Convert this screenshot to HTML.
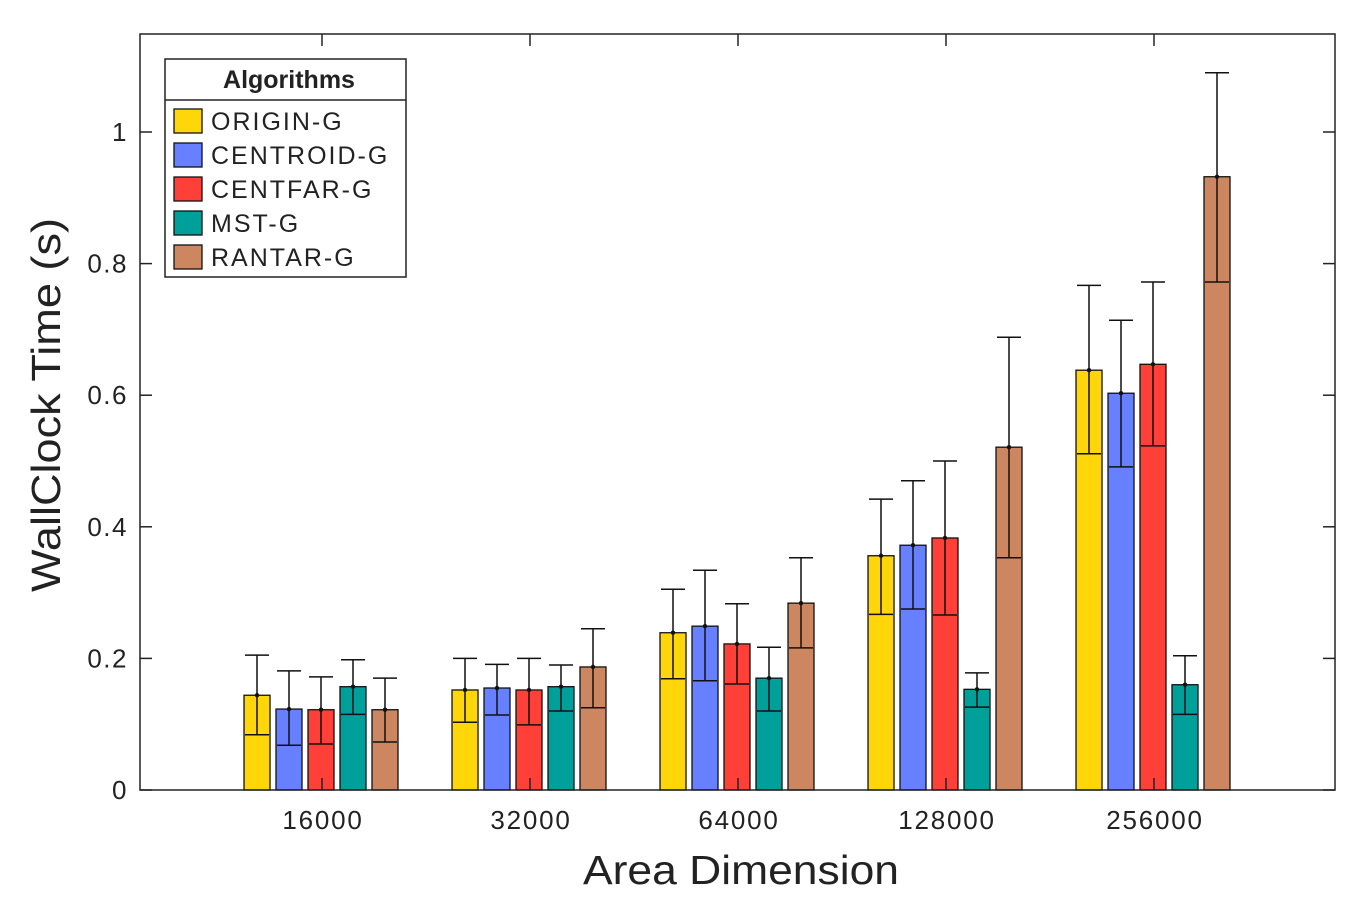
<!DOCTYPE html>
<html><head><meta charset="utf-8"><style>
body{margin:0;background:#fff}
svg text{font-family:"Liberation Sans",sans-serif;fill:#222}
</style></head><body>
<svg id="chart" width="1364" height="910" xmlns="http://www.w3.org/2000/svg">
<g id="plot"></g>
</svg>
<script>
const categories=["16000","32000","64000","128000","256000"];
const seriesNames=["ORIGIN-G","CENTROID-G","CENTFAR-G","MST-G","RANTAR-G"];
const seriesColors=["#ffd60a","#6680ff","#ff4038","#00a09a","#cc8660"];
const origin=[0.144,0.152,0.239,0.356,0.638];
const centroid=[0.123,0.155,0.249,0.372,0.603];
const centfar=[0.122,0.152,0.222,0.383,0.647];
const mst=[0.157,0.157,0.170,0.153,0.160];
const rantar=[0.122,0.187,0.284,0.521,0.932];
const upperOrigin=[0.205,0.200,0.305,0.442,0.767];
const upperCentroid=[0.181,0.191,0.334,0.470,0.714];
const upperCentfar=[0.172,0.200,0.283,0.500,0.772];
const upperMst=[0.198,0.190,0.217,0.178,0.204];
const upperRantar=[0.170,0.245,0.353,0.688,1.090];
const lowerOrigin=[0.084,0.103,0.169,0.267,0.511];
const lowerCentroid=[0.068,0.114,0.166,0.275,0.491];
const lowerCentfar=[0.070,0.099,0.161,0.266,0.523];
const lowerMst=[0.115,0.120,0.120,0.126,0.115];
const lowerRantar=[0.073,0.125,0.216,0.353,0.772];
const yTicks=[0,0.2,0.4,0.6,0.8,1];
const yTickLabels=["0","0.2","0.4","0.6","0.8","1"];

const values=[origin,centroid,centfar,mst,rantar];
const uppers=[upperOrigin,upperCentroid,upperCentfar,upperMst,upperRantar];
const lowers=[lowerOrigin,lowerCentroid,lowerCentfar,lowerMst,lowerRantar];
const L=140,R=1335,T=34,B=790;
const y=v=>B-658*v;
const x=i=>322+208*i;
const NS="http://www.w3.org/2000/svg";
const g=document.getElementById('plot');
function mk(tag,attrs,parent){const e=document.createElementNS(NS,tag);for(const k in attrs)e.setAttribute(k,attrs[k]);(parent||g).appendChild(e);return e;}

values.forEach((ser,s)=>{
  ser.forEach((v,i)=>{
    const cx=x(i)+(s-2)*32-1;
    const r=mk('rect',{x:cx-13,y:y(v),width:26,height:B-y(v),fill:seriesColors[s],stroke:'#111','stroke-width':1.3});
    
    
    const eb=mk('g',{stroke:'#111','stroke-width':1.5});
    
    
    mk('line',{x1:cx,x2:cx,y1:y(uppers[s][i]),y2:y(lowers[s][i])},eb);
    mk('line',{x1:cx-12,x2:cx+12,y1:y(uppers[s][i]),y2:y(uppers[s][i])},eb);
    mk('line',{x1:cx-12,x2:cx+12,y1:y(lowers[s][i]),y2:y(lowers[s][i])},eb);
    mk('circle',{cx:cx,cy:y(v),r:2.2,fill:'#111',stroke:'none'},eb);
  });
});
const ax=mk('rect',{x:L,y:T,width:R-L,height:B-T,fill:'none',stroke:'#222','stroke-width':1.5});


yTicks.forEach((t,k)=>{
  mk('line',{x1:L,x2:L+12,y1:y(t),y2:y(t),stroke:'#222','stroke-width':1.5});
  mk('line',{x1:R-12,x2:R,y1:y(t),y2:y(t),stroke:'#222','stroke-width':1.5});
  const tx=mk('text',{x:L-12,y:y(t)+9,'text-anchor':'end','font-size':26,'letter-spacing':1.5});
  tx.textContent=yTickLabels[k];
  
  
});
categories.forEach((c,i)=>{
  mk('line',{x1:x(i),x2:x(i),y1:T,y2:T+12,stroke:'#222','stroke-width':1.5});
  mk('line',{x1:x(i),x2:x(i),y1:B-12,y2:B,stroke:'#222','stroke-width':1.5});
  const tx=mk('text',{x:x(i)+1,y:829,'text-anchor':'middle','font-size':26,'letter-spacing':1.8});
  tx.textContent=c;
  
  
});
const xt=mk('text',{x:583,y:884,'font-size':41,textLength:316,lengthAdjust:'spacingAndGlyphs'});
xt.textContent='Area Dimension';


const yt=mk('text',{x:-592,y:0,'font-size':41,transform:'translate(60,0) rotate(-90)',textLength:374,lengthAdjust:'spacingAndGlyphs'});
yt.textContent='WallClock Time (s)';


const lg=mk('g',{});


mk('rect',{x:165,y:59,width:241,height:218,fill:'#fff',stroke:'#222','stroke-width':1.5},lg);
mk('line',{x1:165,x2:406,y1:100,y2:100,stroke:'#222','stroke-width':1.5},lg);
const lt=mk('text',{x:289,y:88,'text-anchor':'middle','font-size':25,'font-weight':'bold'},lg);
lt.textContent='Algorithms';


seriesNames.forEach((n,s)=>{
  const yy=121+34*s;
  const e=mk('g',{},lg);
  
  
  mk('rect',{x:174,y:yy-12,width:28,height:24,fill:seriesColors[s],stroke:'#111','stroke-width':1.3},e);
  const t=mk('text',{x:211,y:yy+9,'font-size':25,'letter-spacing':2},e);
  t.textContent=n;
});
</script>
</body></html>
